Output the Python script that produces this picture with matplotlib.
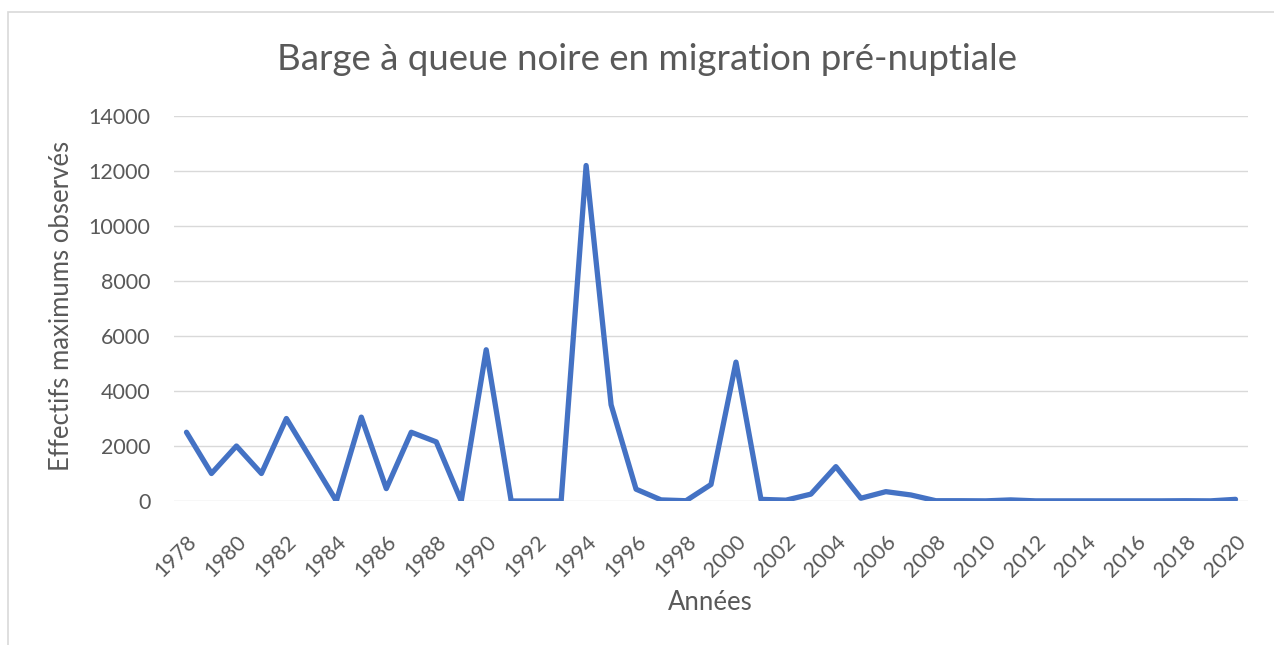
#!/usr/bin/env python3
"""
Barge a queue noire - effectifs maximums en migration pre-nuptiale
"""

import matplotlib.pyplot as plt
import matplotlib.patches as patches

# Donnees
annees = list(range(1978, 2021))
effectifs = [2500, 1000, 2000, 1000, 3000, 1500, 0, 3050, 450, 2500,
             2150, 0, 5500, 0, 0, 0, 12200, 3500, 430, 40,
             10, 600, 5050, 60, 30, 250, 1250, 100, 340, 220,
             10, 10, 5, 40, 5, 5, 5, 5, 5, 5,
             10, 5, 60]
yticks = list(range(0, 14001, 2000))

titre = 'Barge à queue noire en migration pré-nuptiale'
xlabel = 'Années'
ylabel = 'Effectifs maximums observés'

gris = '#595959'
plt.rcParams['font.family'] = ['Lato', 'DejaVu Sans']

fig = plt.figure(figsize=(12.74, 6.45), dpi=100)
ax = fig.add_axes([174/1274, 1 - 501/645, (1248-174)/1274, (501-116)/645])

# cadre du graphique (coupe a droite et en bas)
cadre = patches.Rectangle((8/1274, -0.1), 1.2, 1 - 12/645 + 0.1,
                          transform=fig.transFigure, fill=False,
                          edgecolor='#D9D9D9', linewidth=1.2)
fig.patches.append(cadre)

idx = list(range(len(annees)))
ax.plot(idx, effectifs, color='#4472C4', linewidth=3.8,
        solid_joinstyle='round', solid_capstyle='round', zorder=3)

ax.set_xlim(-0.5, len(annees) - 0.5)
ax.set_ylim(0, 14000)
ax.set_yticks(yticks)
ax.set_yticklabels([str(v) for v in yticks])
ax.yaxis.grid(True, color='#D9D9D9', linewidth=1.0)
ax.set_axisbelow(True)

ax.set_xticks(idx[::2])
ax.set_xticklabels([str(a) for a in annees[::2]], rotation=45,
                   ha='right', va='top', rotation_mode='anchor')

for s in ax.spines.values():
    s.set_visible(False)
ax.tick_params(axis='both', length=0, colors=gris, labelsize=15.5)
ax.tick_params(axis='y', pad=17)
ax.tick_params(axis='x', pad=22)

ax.set_xlabel(xlabel, fontsize=18.5, color=gris, va='center')
ax.xaxis.set_label_coords(0.5 + (710 - 711) / 1074, -(603 - 501) / 385)
ax.set_ylabel(ylabel, fontsize=18.5, color=gris, va='center')
ax.yaxis.set_label_coords((62 - 174) / 1074, (501 - 306) / 385)

fig.text(647/1274, 1 - 60/645, titre, ha='center', va='center',
         fontsize=26.4, color=gris)

plt.savefig('out.png', dpi=100)
